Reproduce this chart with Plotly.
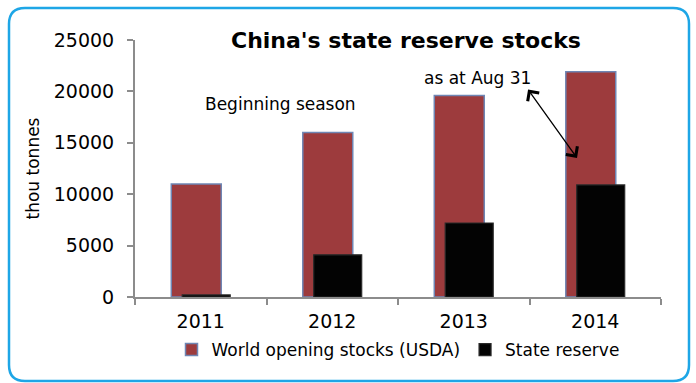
import plotly.graph_objects as go

# Chart data (thousand tonnes)
years = ["2011", "2012", "2013", "2014"]
world_opening = [11000, 16000, 19600, 21900]
state_reserve = [200, 4100, 7200, 10900]
y_ticks = [0, 5000, 10000, 15000, 20000, 25000]

W, H = 696, 383
ML, MR, MT, MB = 135, 35, 40, 86
PW, PH = W - ML - MR, H - MT - MB


def px(x):
    """Pixel x -> paper x."""
    return (x - ML) / PW


def py(y):
    """Pixel y (from top) -> paper y."""
    return (H - MB - y) / PH


FONT = "DejaVu Sans"

fig = go.Figure()
fig.add_trace(go.Bar(
    x=years, y=world_opening, name="World opening stocks (USDA)",
    offset=-0.224, width=0.38,
    marker=dict(color="#9d3b3d", line=dict(color="#6f86b4", width=1.5)),
))
fig.add_trace(go.Bar(
    x=years, y=state_reserve, name="State reserve",
    offset=-0.141, width=0.365,
    marker=dict(color="#030303", line=dict(color="#2a2a2a", width=1.2)),
))

# rounded frame around the chart
x0, x1, y0, y1, r = 9, 689, 8, 381, 16
rx, ry = r / PW, r / PH
X0, X1, Y0, Y1 = px(x0), px(x1), py(y0), py(y1)
frame = (
    f"M{X0 + rx},{Y0} L{X1 - rx},{Y0} Q{X1},{Y0} {X1},{Y0 - ry} "
    f"L{X1},{Y1 + ry} Q{X1},{Y1} {X1 - rx},{Y1} "
    f"L{X0 + rx},{Y1} Q{X0},{Y1} {X0},{Y1 + ry} "
    f"L{X0},{Y0 - ry} Q{X0},{Y0} {X0 + rx},{Y0} Z"
)

fig.update_layout(
    width=W, height=H,
    margin=dict(l=ML, r=MR, t=MT, b=MB),
    paper_bgcolor="white", plot_bgcolor="white",
    barmode="overlay",
    font=dict(family=FONT, color="black", size=17),
    showlegend=True,
    legend=dict(
        orientation="h", x=0.5, xanchor="center", y=py(350), yanchor="middle",
        font=dict(family=FONT, size=17), itemwidth=30,
        traceorder="normal", bgcolor="rgba(0,0,0,0)",
    ),
    xaxis=dict(
        type="category", range=[-0.5, 3.5],
        showline=True, linecolor="#8c8c8c", linewidth=2,
        ticks="outside", tickson="boundaries", ticklen=6, tickcolor="#8c8c8c",
        tickwidth=2, ticklabelstandoff=6,
        tickfont=dict(family=FONT, size=19), showgrid=False,
    ),
    yaxis=dict(
        range=[0, 25000], tickvals=y_ticks, tickformat="d",
        showline=True, linecolor="#8c8c8c", linewidth=2,
        ticks="outside", ticklen=6, tickcolor="#8c8c8c", tickwidth=2,
        ticklabelstandoff=9,
        tickfont=dict(family=FONT, size=19), showgrid=False, zeroline=False,
        title=dict(text="thou tonnes", font=dict(family=FONT, size=17), standoff=10),
    ),
    shapes=[
        dict(type="path", path=frame, xref="paper", yref="paper",
             line=dict(color="#1ea6e6", width=2.5), layer="below"),
    ],
    annotations=[
        dict(text="<b>China's state reserve stocks</b>", xref="paper", yref="paper",
             x=px(406), y=py(40), xanchor="center", yanchor="middle", showarrow=False,
             font=dict(family=FONT, size=22, color="black")),
        dict(text="Beginning season", xref="paper", yref="paper",
             x=px(280), y=py(104), xanchor="center", yanchor="middle", showarrow=False,
             font=dict(family=FONT, size=17)),
        dict(text="as at Aug 31", xref="paper", yref="paper",
             x=px(477), y=py(78), xanchor="center", yanchor="middle", showarrow=False,
             font=dict(family=FONT, size=17)),
        dict(text="", xref="paper", yref="paper", x=px(577), y=py(158),
             ax=-50, ay=-70, showarrow=True, arrowside="end+start",
             arrowhead=4, startarrowhead=4, arrowsize=2.1, startarrowsize=2.1,
             arrowwidth=1.3, arrowcolor="black"),
    ],
)

fig.write_html("out.html")
